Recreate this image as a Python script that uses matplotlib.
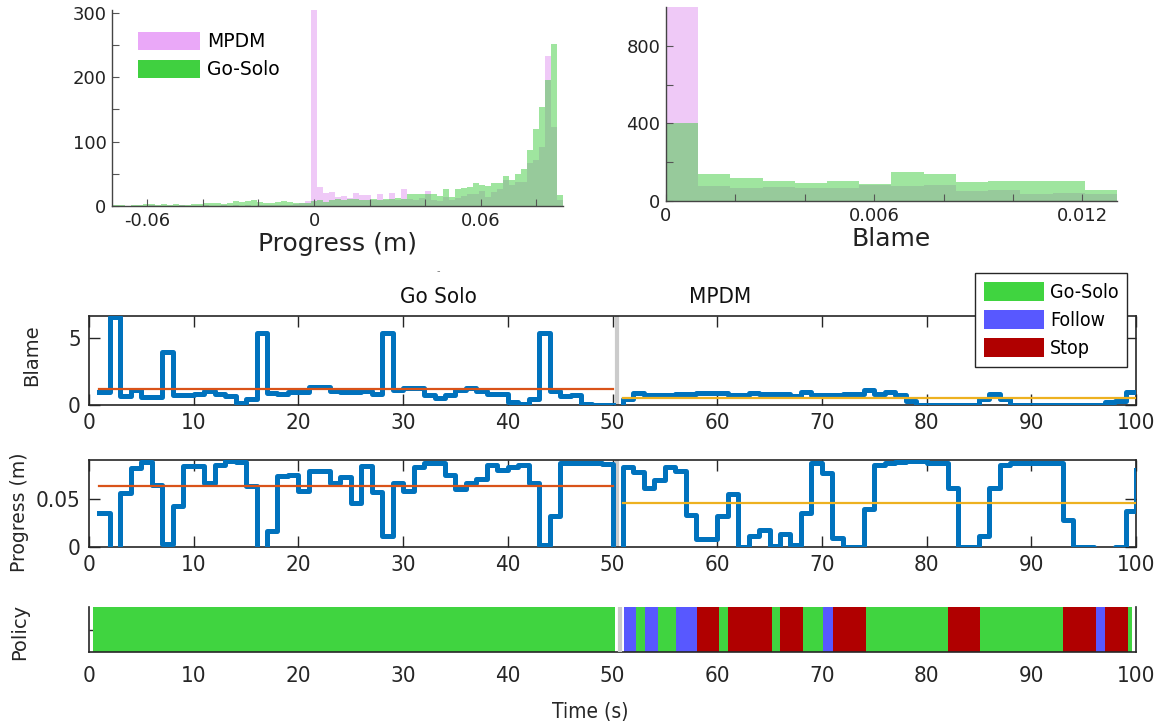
import os
import numpy as np
import matplotlib
matplotlib.use("Agg")
import matplotlib.pyplot as plt
from matplotlib import font_manager
from matplotlib.patches import Patch

# Histogram of per-step progress (m), shared bin grid
prog_edges = np.linspace(-0.0724, 0.0896, 76)
solo_prog_counts = [1, 1, 0, 1, 2, 3, 3, 2, 3, 2,
                    3, 2, 2, 3, 3, 4, 5, 4, 3, 5,
                    7, 6, 8, 9, 6, 5, 5, 6, 8, 6,
                    5, 5, 4, 7, 9, 6, 9, 11, 10, 11,
                    11, 10, 9, 11, 9, 11, 11, 13, 11, 19,
                    19, 18, 19, 18, 15, 26, 14, 27, 28, 30,
                    36, 33, 31, 36, 35, 46, 40, 49, 58, 87,
                    120, 153, 196, 252, 17]
mpdm_prog_counts = [0, 0, 0, 0, 0, 0, 1, 0, 0, 0,
                    0, 1, 0, 0, 0, 1, 0, 0, 1, 0,
                    1, 0, 1, 0, 1, 1, 1, 2, 1, 2,
                    3, 4, 8, 420, 29, 20, 22, 14, 15, 13,
                    20, 17, 17, 10, 19, 9, 20, 9, 26, 11,
                    9, 12, 23, 9, 8, 14, 10, 13, 15, 18,
                    19, 24, 14, 22, 27, 40, 32, 37, 37, 67,
                    71, 92, 233, 122, 9]

# Histogram of per-step blame
blame_edges = np.linspace(0, 0.013, 15)
solo_blame_counts = [400, 141, 119, 105, 91, 102, 88, 150, 140, 100, 105, 105, 102, 59]
mpdm_blame_counts = [1100, 76, 67, 71, 67, 67, 84, 76, 81, 52, 57, 34, 41, 34]

# Time series, one value per second (held until the next sample)
solo_t = np.arange(1, 51)
solo_blame = [0.97, 6.5, 0.67, 1.09, 0.62, 0.62, 3.96, 0.72, 0.72, 0.84,
              1.01, 0.79, 0.64, 0.17, 0.42, 5.32, 0.87, 0.79, 0.97, 0.97,
              1.34, 1.34, 1.04, 0.97, 0.97, 1.04, 0.84, 5.32, 1.11, 1.29,
              1.29, 0.74, 0.54, 0.74, 1.09, 1.26, 1.04, 0.79, 0.84, 0.25,
              0.05, 0.42, 5.32, 1.04, 0.67, 0.72, 0.05, 0.02, 0.02, 0.02]
solo_progress = [0.0352, -0.01, 0.0557, 0.0814, 0.0882, 0.0643, 0.0027, 0.042, 0.0838, 0.0838,
                 0.066, 0.0848, 0.089, 0.0882, 0.0626, -0.01, 0.0164, 0.0735, 0.0742, 0.0575,
                 0.079, 0.079, 0.0667, 0.0728, 0.0455, 0.0838, 0.0564, 0.0113, 0.0667, 0.0575,
                 0.0831, 0.0865, 0.0865, 0.0746, 0.0599, 0.066, 0.0701, 0.0848, 0.0797, 0.0831,
                 0.0848, 0.066, 0.0017, 0.0325, 0.0872, 0.0865, 0.0865, 0.0865, 0.086, -0.005]

mpdm_t = np.arange(51, 101)
mpdm_blame = [0.45, 0.89, 0.74, 0.72, 0.76, 0.8, 0.82, 0.89, 0.89, 0.89,
              0.74, 0.74, 0.89, 0.8, 0.79, 0.79, 0.64, 0.94, 0.74, 0.74,
              0.74, 0.82, 0.82, 1.14, 0.79, 0.99, 0.74, 0.32, 0.02, 0.02,
              0.02, 0.02, 0.02, 0.02, 0.45, 0.82, 0.45, 0.02, 0.02, 0.02,
              0.02, 0.02, 0.02, 0.02, 0.02, 0.02, 0.2, 0.32, 0.94, 0.94]
mpdm_progress = [0.0824, 0.078, 0.061, 0.0694, 0.0824, 0.079, 0.0335, 0.0086, 0.0086, 0.0318,
                 0.055, 0.0, 0.0113, 0.0171, 0.001, 0.013, 0.0017, 0.0352, 0.0872, 0.0763,
                 0.0096, 0.0, 0.0, 0.0393, 0.0848, 0.0865, 0.0882, 0.0889, 0.0889, 0.0872,
                 0.0865, 0.0609, 0.0, 0.0, 0.0113, 0.0609, 0.0848, 0.0872, 0.0865, 0.0872,
                 0.0872, 0.0872, 0.0277, 0.0, 0.0, -0.004, -0.004, 0.0, 0.037, 0.08]

# Policy chosen over time
solo_policy_edges = [0.4, 50.2]
solo_policy = ["Go-Solo"]
mpdm_policy_edges = [51.1, 52.2, 53.1, 54.3, 56.1, 58.1, 60.2, 61.0, 65.2, 66.0, 68.2,
                     70.1, 71.1, 74.2, 82.0, 85.1, 93.0, 96.2, 97.0, 99.2, 99.6]
mpdm_policy = ["Follow", "Go-Solo", "Follow", "Go-Solo", "Follow", "Stop", "Go-Solo",
               "Stop", "Go-Solo", "Stop", "Go-Solo", "Follow", "Stop", "Go-Solo",
               "Stop", "Go-Solo", "Stop", "Follow", "Stop", "Go-Solo"]

POLICY_COLORS = {"Go-Solo": "#40D440", "Follow": "#5858FF", "Stop": "#B00000"}
LINE_BLUE = "#0072BD"
SOLO_MEAN = "#D95319"
MPDM_MEAN = "#EDB120"
SPLIT_GRAY = "#CBCBCB"
INK = "#262626"


def narrow_font(size):
    # condensed face for the time-series panels, if one is installed
    wanted = ["DejaVuSansCondensed.ttf", "LiberationSansNarrow-Regular.ttf"]
    files = {os.path.basename(f.fname): f.fname for f in font_manager.fontManager.ttflist}
    for w in wanted:
        if w in files:
            return font_manager.FontProperties(fname=files[w], size=size)
    for f in font_manager.fontManager.ttflist:
        name = f.name + " " + os.path.basename(f.fname)
        if ("Condensed" in name or "Narrow" in name) and f.weight in (400, "normal", "regular") \
                and f.style == "normal":
            return font_manager.FontProperties(fname=f.fname, size=size)
    return font_manager.FontProperties(family="DejaVu Sans", size=size)


W, H = 1156, 726
fig = plt.figure(figsize=(W / 100, H / 100), dpi=100)


def add_ax(left, top, right, bottom):
    return fig.add_axes([left / W, 1 - bottom / H, (right - left) / W, (bottom - top) / H])


def hist_style(ax):
    for s in ["top", "right"]:
        ax.spines[s].set_visible(False)
    for s in ["left", "bottom"]:
        ax.spines[s].set_color("#444444")
        ax.spines[s].set_linewidth(1.0)
    ax.tick_params(which="both", direction="in", length=5, width=0.8, color="#555555",
                   labelsize=13, labelcolor="#222222", pad=4)


# ---- progress histogram ----
ax1 = add_ax(112, 10, 563, 206)
ax1.stairs(mpdm_prog_counts, prog_edges, fill=True, color="#CC4CE6", alpha=0.3, lw=0)
ax1.stairs(solo_prog_counts, prog_edges, fill=True, color="#40CC40", alpha=0.5, lw=0)
ax1.set_xlim(-0.0727, 0.0896)
ax1.set_ylim(0, 304)
ax1.set_xticks([-0.06, 0, 0.06])
ax1.set_xticklabels(["-0.06", "0", "0.06"])
ax1.set_xticks(np.arange(-0.06, 0.081, 0.02), minor=True)
ax1.set_yticks([0, 100, 200, 300])
ax1.set_yticks([50, 150, 250], minor=True)
hist_style(ax1)
ax1.set_xlabel("Progress (m)", fontsize=18, color="#222222", labelpad=2)
fig.legend(handles=[Patch(color="#EAA8F8", lw=0), Patch(color="#40D040", lw=0)],
           labels=["MPDM", "Go-Solo"], loc="upper left",
           bbox_to_anchor=(138 / W, 1 - 32 / H), frameon=False, fontsize=13.5,
           handlelength=3.3, handleheight=1.1, handletextpad=0.4,
           labelspacing=0.45, borderpad=0, borderaxespad=0)

# ---- blame histogram ----
ax2 = add_ax(666, 7, 1117, 201)
ax2.stairs(mpdm_blame_counts, blame_edges, fill=True, color="#CC4CE6", alpha=0.3, lw=0)
ax2.stairs(solo_blame_counts, blame_edges, fill=True, color="#40CC40", alpha=0.5, lw=0)
ax2.set_xlim(0, 0.013)
ax2.set_ylim(0, 1000)
ax2.set_xticks([0, 0.006, 0.012])
ax2.set_xticklabels(["0", "0.006", "0.012"])
ax2.set_xticks([0.002, 0.004, 0.008, 0.010], minor=True)
ax2.set_yticks([0, 400, 800])
ax2.set_yticks([200, 600], minor=True)
hist_style(ax2)
ax2.set_xlabel("Blame", fontsize=18, color="#222222", labelpad=2)

# ---- time series panels ----
tick_font = narrow_font(16)
title_font = narrow_font(16)


def series_style(ax, yticks, ylabels):
    ax.set_xlim(0, 100)
    ax.set_xticks(np.arange(0, 101, 10))
    ax.set_yticks(yticks)
    ax.set_yticklabels(ylabels)
    for s in ax.spines.values():
        s.set_color(INK)
        s.set_linewidth(1.2)
    ax.tick_params(direction="in", length=8, width=1.0, color=INK, top=True, right=True,
                   labelcolor=INK, pad=6)
    for lbl in ax.get_xticklabels() + ax.get_yticklabels():
        lbl.set_fontproperties(tick_font)


def draw_series(ax, solo_vals, mpdm_vals):
    ax.axvline(50.4, color=SPLIT_GRAY, lw=3, zorder=1)
    ax.step(solo_t, solo_vals, where="post", color=LINE_BLUE, lw=3.6, zorder=3)
    ax.step(np.r_[mpdm_t[0], mpdm_t], np.r_[0, mpdm_vals], where="post",
            color=LINE_BLUE, lw=3.6, zorder=3)
    ax.plot([solo_t[0], solo_t[-1]], [np.mean(solo_vals)] * 2, color=SOLO_MEAN, lw=1.6, zorder=4)
    ax.plot([mpdm_t[0], mpdm_t[-1]], [np.mean(mpdm_vals)] * 2, color=MPDM_MEAN, lw=1.6, zorder=4)


ax_b = add_ax(89, 316, 1136, 405)
draw_series(ax_b, solo_blame, mpdm_blame)
ax_b.set_ylim(0, 6.6)
series_style(ax_b, [0, 5], ["0", "5"])

ax_p = add_ax(89, 460, 1136, 547)
draw_series(ax_p, solo_progress, mpdm_progress)
ax_p.set_ylim(0, 0.09)
series_style(ax_p, [0, 0.05], ["0", "0.05"])

ax_s = add_ax(89, 607, 1136, 652)
for edges, names in [(solo_policy_edges, solo_policy), (mpdm_policy_edges, mpdm_policy)]:
    starts = np.array(edges[:-1])
    widths = np.diff(edges)
    ax_s.barh(0.5, widths, left=starts, height=1.0,
              color=[POLICY_COLORS[n] for n in names], lw=0, zorder=2)
ax_s.axvline(50.7, color=SPLIT_GRAY, lw=3, zorder=3)
ax_s.set_ylim(0, 1)
series_style(ax_s, [0.5], [""])
ax_s.spines["top"].set_visible(False)
ax_s.tick_params(axis="x", length=0, top=False, pad=10)
ax_s.tick_params(axis="y", right=False)

# panel labels
fig.text(32 / W, 1 - 355 / H, "Blame", rotation=90, ha="center", va="center",
         fontsize=14, color=INK)
fig.text(20 / W, 1 - 512 / H, "Progress (m)", rotation=90, ha="center", va="center",
         fontsize=13.5, color=INK)
fig.text(20 / W, 1 - 632 / H, "Policy", rotation=90, ha="center", va="center",
         fontsize=14, color=INK)
fig.text(590 / W, 1 - 712 / H, "Time (s)", ha="center", va="center",
         fontproperties=narrow_font(15), color=INK)
fig.text(438 / W, 1 - 297 / H, "Go Solo", ha="center", va="center",
         fontproperties=title_font, color="#111111")
fig.text(720 / W, 1 - 297 / H, "MPDM", ha="center", va="center",
         fontproperties=title_font, color="#111111")
fig.text(438 / W, 1 - 271 / H, "-", ha="center", va="center", fontsize=7, color="#777777")

# policy legend
fig.legend(handles=[Patch(color=POLICY_COLORS[n], lw=0) for n in POLICY_COLORS],
           labels=list(POLICY_COLORS), loc="upper left",
           bbox_to_anchor=(975 / W, 1 - 273 / H), prop=narrow_font(14),
           frameon=True, fancybox=False, edgecolor=INK, framealpha=1,
           handlelength=3.1, handleheight=1.15, handletextpad=0.3,
           labelspacing=0.4, borderpad=0.45, borderaxespad=0)

fig.savefig("out.png", dpi=100)
